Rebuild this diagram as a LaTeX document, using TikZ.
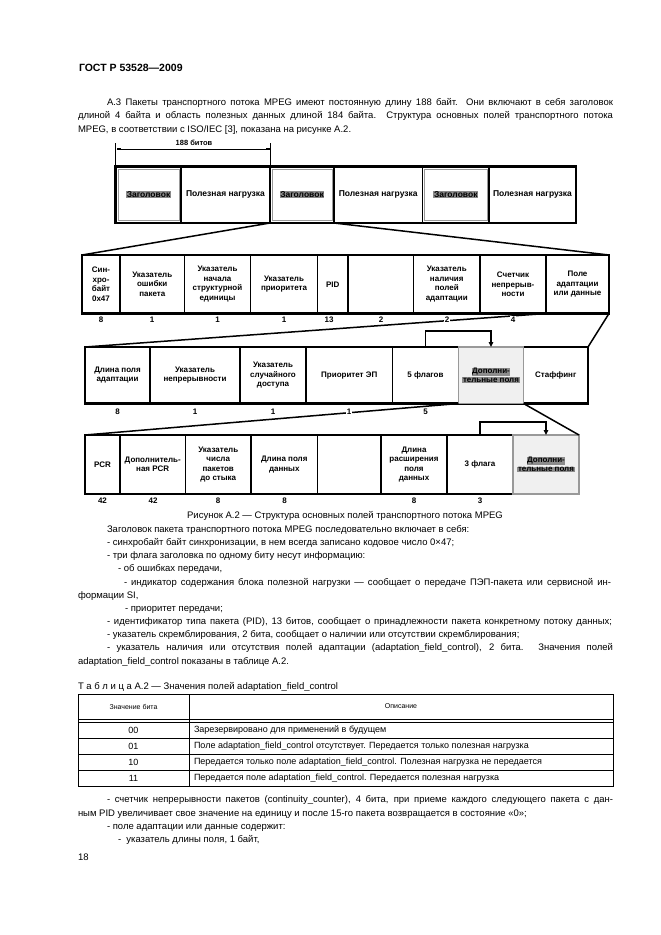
\documentclass[tikz,border=0pt]{standalone}
\usepackage{fontspec}
\setmainfont{Liberation Sans}
\usetikzlibrary{arrows.meta}
\definecolor{hlgray}{gray}{0.55}
\definecolor{cellgray}{gray}{0.94}
\definecolor{edgegray}{gray}{0.6}
\newcommand\hlt[1]{{\setlength{\fboxsep}{0.6pt}\colorbox{hlgray}{#1}}}
\newcommand\mkcell[7]{%
 \pgfmathsetmacro\mkcx{(#3+#4)/2}%
 \pgfmathsetmacro\mkcy{(#5+#6)/2}%
 \pgfmathsetmacro\mkcw{#4-#3}%
 \pgfmathsetmacro\mkch{#6-#5}%
 \node[#1,minimum width=\mkcw pt,minimum height=\mkch pt] (#2) at (\mkcx,\mkcy) {#7};}
\newcommand\tline[4]{\node[txt] (#1) at (#2,#3) {#4};}
\newcommand\jline[5]{\node[txt] (#1) at (#2,#3) {\makebox[#4pt][s]{#5}};}
\tikzset{
 cellbox/.style={draw,line width=1.3pt,inner sep=0pt,outer sep=0pt,align=center,font=\fontsize{8}{9.5}\selectfont\bfseries},
 topcell/.style={cellbox,font=\fontsize{8.5}{10}\selectfont\bfseries},
 rowbox/.style={draw,line width=2.6pt,inner sep=0pt,outer sep=0pt},
 graycell/.style={cellbox,draw=edgegray,fill=cellgray,line width=1.4pt},
 inbox/.style={draw=edgegray,line width=1pt,inner sep=0pt,outer sep=0pt,align=center,font=\fontsize{8.5}{10}\selectfont\bfseries},
 num/.style={font=\fontsize{8}{9}\selectfont\bfseries,fill=white,inner sep=1pt},
 funnel/.style={line width=1.5pt},
 arr/.style={line width=1.3pt,-{Triangle[length=5pt,width=4.5pt]}},
 txt/.style={inner sep=0pt,outer sep=0pt,font=\fontsize{9.5}{11}\selectfont,anchor=base west},
 tabline/.style={line width=0.8pt},
 tabtxt/.style={inner sep=0pt,outer sep=0pt,font=\fontsize{9}{11}\selectfont},
}
\begin{document}
\begin{tikzpicture}[x=1pt,y=-1pt]
\fill[white] (0,0) rectangle (661,935);
\useasboundingbox (0,0) rectangle (661,935);

% ---------- header text ----------
\node[txt,font=\fontsize{10.5}{12}\selectfont\bfseries] (gost) at (79,71) {ГОСТ Р 53528—2009};
\jline{a1}{107}{105}{506}{А.3 Пакеты транспортного потока MPEG имеют постоянную длину 188 байт. Они включают в себя заголовок}
\jline{a2}{78}{118.5}{535}{длиной 4 байта и область полезных данных длиной 184 байта. Структура основных полей транспортного потока}
\tline{a3}{78}{132}{MPEG, в соответствии с ISO/IEC [3], показана на рисунке А.2.}

% ---------- top bar ----------
\mkcell{topcell}{h1}{115.5}{181}{166.5}{223}{}
\mkcell{topcell}{p1}{181}{270}{166.5}{223}{Полезная нагрузка}
\mkcell{topcell}{h2}{270}{334}{166.5}{223}{}
\mkcell{topcell}{p2}{334}{422.5}{166.5}{223}{Полезная нагрузка}
\mkcell{topcell}{h3}{422.5}{489}{166.5}{223}{}
\mkcell{topcell}{p3}{489}{576}{166.5}{223}{Полезная нагрузка}
\mkcell{rowbox}{bar1}{115.5}{576}{166.5}{223}{}
\mkcell{inbox}{hi1}{118}{179}{169}{220.5}{\hlt{Заголовок}}
\mkcell{inbox}{hi2}{272}{332}{169}{220.5}{\hlt{Заголовок}}
\mkcell{inbox}{hi3}{424.5}{487}{169}{220.5}{\hlt{Заголовок}}

% dimension 188
\coordinate (d1) at (116.5,149);
\coordinate (d2) at (270,149);
\draw[line width=0.6pt] (h1.north west) -- ++(0,-24);
\draw[line width=0.6pt] (h2.north west) -- ++(0,-24);
\draw[line width=1pt] (d1) -- (d2);
\fill (d1) ++(0.5,-1.3) rectangle ++(4,2.6);
\fill (d2) ++(-4.5,-1.3) rectangle ++(4,2.6);
\node[font=\fontsize{7.5}{9}\selectfont\bfseries,inner sep=0pt] (dimlab) at (194,142.5) {188 битов};

% ---------- row 2 ----------
\mkcell{cellbox}{c21}{82}{120}{255}{313.5}{Син-\\хро-\\байт\\0x47}
\mkcell{cellbox}{c22}{120}{184.5}{255}{313.5}{Указатель\\ошибки\\пакета}
\mkcell{cellbox}{c23}{184.5}{250.5}{255}{313.5}{Указатель\\начала\\структурной\\единицы}
\mkcell{cellbox}{c24}{250.5}{317.5}{255}{313.5}{Указатель\\приоритета}
\mkcell{cellbox}{c25}{317.5}{348}{255}{313.5}{PID}
\mkcell{cellbox}{c26}{348}{413.5}{255}{313.5}{}
\mkcell{cellbox}{c27}{413.5}{480}{255}{313.5}{Указатель\\наличия\\полей\\адаптации}
\mkcell{cellbox}{c28}{480}{546}{255}{313.5}{Счетчик\\непрерыв-\\ности}
\mkcell{cellbox}{c29}{546}{609}{255}{313.5}{Поле\\адаптации\\или данные}
\mkcell{rowbox}{row2}{82}{609}{255}{313.5}{}

% ---------- row 3 ----------
\mkcell{cellbox}{c31}{85}{150}{347}{403.5}{Длина поля\\адаптации}
\mkcell{cellbox}{c32}{150}{240}{347}{403.5}{Указатель\\непрерывности}
\mkcell{cellbox}{c33}{240}{306}{347}{403.5}{Указатель\\случайного\\доступа}
\mkcell{cellbox}{c34}{306}{392.5}{347}{403.5}{Приоритет ЭП}
\mkcell{cellbox}{c35}{392.5}{458.5}{347}{403.5}{5 флагов}
\mkcell{cellbox}{c37}{523.5}{588}{347}{403.5}{Стаффинг}
\mkcell{rowbox}{row3}{85}{588}{347}{403.5}{}
\mkcell{graycell}{c36}{458.5}{523.5}{347}{403.5}{\hlt{Дополни-}\\[-1pt]\hlt{тельные поля}}

% ---------- row 4 ----------
\mkcell{cellbox}{c41}{85}{120}{435}{494}{PCR}
\mkcell{cellbox}{c42}{120}{185.5}{435}{494}{Дополнитель-\\ная PCR}
\mkcell{cellbox}{c43}{185.5}{251}{435}{494}{Указатель\\числа\\пакетов\\до стыка}
\mkcell{cellbox}{c44}{251}{317.5}{435}{494}{Длина поля\\данных}
\mkcell{cellbox}{c45}{317.5}{381}{435}{494}{}
\mkcell{cellbox}{c46}{381}{447}{435}{494}{Длина\\расширения\\поля\\данных}
\mkcell{cellbox}{c47}{447}{513}{435}{494}{3 флага}
\mkcell{rowbox}{row4}{85}{579}{435}{494}{}
\mkcell{graycell}{c48}{513}{579}{435}{494}{\hlt{Дополни-}\\[-1pt]\hlt{тельные поля}}

% ---------- funnels ----------
\draw[funnel] (h2.south west) -- (row2.north west);
\draw[funnel] (h2.south east) -- (row2.north east);
\draw[funnel] (c29.south west) -- (row3.north west);
\draw[funnel] (c29.south east) -- (row3.north east);
\draw[funnel] (c36.south west) -- (row4.north west);
\draw[funnel] (c36.south east) -- (row4.north east);

% ---------- arrows ----------
\draw[arr] (c35.north) -- ++(0,-16) -| (c36.north);
\draw[arr] (c47.north) -- ++(0,-13) -| (c48.north);

% ---------- bit counts ----------
\node[num] (n21) at (101,320) {8};
\node[num] (n22) at (152,320) {1};
\node[num] (n23) at (217.5,320) {1};
\node[num] (n24) at (284,320) {1};
\node[num] (n25) at (329,320) {13};
\node[num] (n26) at (381,320) {2};
\node[num] (n27) at (447,320) {2};
\node[num] (n28) at (513,320) {4};
\node[num] (n31) at (117.5,411.5) {8};
\node[num] (n32) at (195,411.5) {1};
\node[num] (n33) at (273,411.5) {1};
\node[num] (n34) at (349,411.5) {1};
\node[num] (n35) at (425.5,411.5) {5};
\node[num] (n41) at (102.5,501) {42};
\node[num] (n42) at (153,501) {42};
\node[num] (n43) at (218,501) {8};
\node[num] (n44) at (284.5,501) {8};
\node[num] (n46) at (414,501) {8};
\node[num] (n47) at (480,501) {3};

% ---------- caption and body ----------
\node[txt,anchor=base] (cap) at (345,518.5) {Рисунок А.2 — Структура основных полей транспортного потока MPEG};
\tline{b0}{107}{532.5}{Заголовок пакета транспортного потока MPEG последовательно включает в себя:}
\tline{b1}{107}{545.6}{- синхробайт байт синхронизации, в нем всегда записано кодовое число 0×47;}
\tline{b2}{107}{558.8}{- три флага заголовка по одному биту несут информацию:}
\tline{b3}{118}{571.9}{- об ошибках передачи,}
\jline{b4}{124}{585.1}{487}{- индикатор содержания блока полезной нагрузки — сообщает о передаче ПЭП-пакета или сервисной ин-}
\tline{b5}{78}{598.2}{формации SI,}
\tline{b6}{125}{611.4}{- приоритет передачи;}
\jline{b7}{107}{624.5}{505}{- идентификатор типа пакета (PID), 13 битов, сообщает о принадлежности пакета конкретному потоку данных;}
\tline{b8}{107}{637.7}{- указатель скремблирования, 2 бита, сообщает о наличии или отсутствии скремблирования;}
\jline{b9}{107}{650.8}{506}{- указатель наличия или отсутствия полей адаптации (adaptation\_field\_control), 2 бита. Значения полей}
\tline{b10}{78}{664}{adaptation\_field\_control показаны в таблице А.2.}
\tline{tcap}{78}{689.5}{Т а б л и ц а А.2 — Значения полей adaptation\_field\_control}

% ---------- table ----------
\draw[tabline] (78,694) -- (613.5,694);
\draw[tabline] (78,719) -- (613.5,719);
\draw[tabline] (78,722) -- (613.5,722);
\draw[tabline] (78,738) -- (613.5,738);
\draw[tabline] (78,754) -- (613.5,754);
\draw[tabline] (78,770) -- (613.5,770);
\draw[tabline] (78,786) -- (613.5,786);
\draw[tabline] (78,694) -- (78,786);
\draw[tabline] (189,694) -- (189,786);
\draw[tabline] (613.5,694) -- (613.5,786);
\node[tabtxt,font=\fontsize{7}{8}\selectfont] (th1) at (133.5,706.5) {Значение бита};
\node[tabtxt,font=\fontsize{7}{8}\selectfont] (th2) at (401,706.5) {Описание};
\node[tabtxt] (r1a) at (133.5,730) {00};
\node[tabtxt] (r2a) at (133.5,746) {01};
\node[tabtxt] (r3a) at (133.5,762) {10};
\node[tabtxt] (r4a) at (133.5,778) {11};
\node[tabtxt,anchor=west] (r1b) at (194,730) {Зарезервировано для применений в будущем};
\node[tabtxt,anchor=west] (r2b) at (194,746) {Поле adaptation\_field\_control отсутствует. Передается только полезная нагрузка};
\node[tabtxt,anchor=west] (r3b) at (194,762) {Передается только поле adaptation\_field\_control. Полезная нагрузка не передается};
\node[tabtxt,anchor=west] (r4b) at (194,778) {Передается поле adaptation\_field\_control. Передается полезная нагрузка};

% ---------- after table ----------
\jline{e1}{107}{802.5}{506}{- счетчик непрерывности пакетов (continuity\_counter), 4 бита, при приеме каждого следующего пакета с дан-}
\tline{e2}{78}{816}{ным PID увеличивает свое значение на единицу и после 15-го пакета возвращается в состояние «0»;}
\tline{e3}{107}{829.5}{- поле адаптации или данные содержит:}
\tline{e4}{118}{842.5}{-\ \ указатель длины поля, 1 байт,}
\tline{pg}{78}{860}{18}
\end{tikzpicture}
\end{document}
